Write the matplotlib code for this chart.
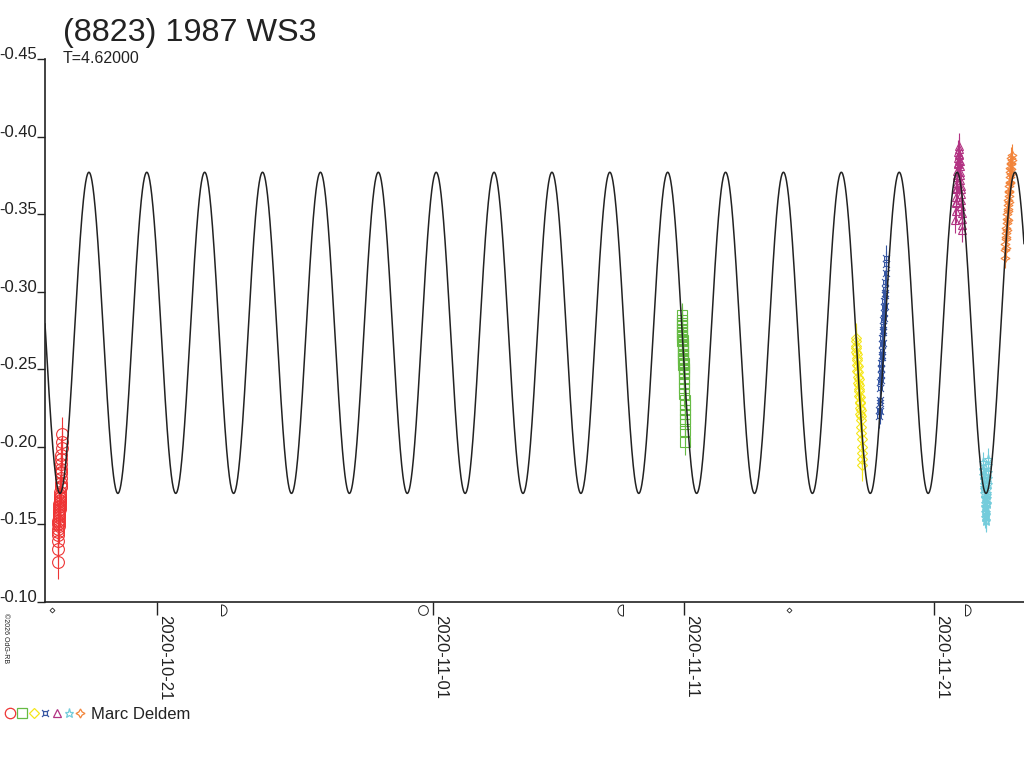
import numpy as np
import pandas as pd
import matplotlib
matplotlib.use('Agg')
import matplotlib.pyplot as plt
import matplotlib.dates as mdates
from matplotlib.lines import Line2D
from matplotlib.path import Path

plt.rcParams['font.family'] = ['Liberation Sans', 'DejaVu Sans']

# --- data ---------------------------------------------------------------
title = '(8823) 1987 WS3'
period_text = 'T=4.62000'
observer = 'Marc Deldem'

# sessions: start day, hours after start, relative magnitude, typical error
red_start = '2020-10-17'
red_hours = [1.0, 1.1, 1.2, 1.3, 1.4, 1.5, 1.6, 1.7, 1.8, 1.9, 2.0, 2.1, 2.2, 2.3, 2.4, 2.5,
             2.6, 2.7, 2.8, 2.9, 3.0, 3.1, 3.2, 3.3, 3.4, 3.5, 3.6, 3.7, 3.8, 3.9, 4.0, 4.1,
             4.2, 4.3, 4.4, 4.5, 4.6, 4.7, 4.8, 4.9]
red_mag = [-0.126, -0.134, -0.139, -0.143, -0.147, -0.150, -0.145, -0.152, -0.149, -0.155,
           -0.151, -0.157, -0.153, -0.159, -0.156, -0.161, -0.158, -0.163, -0.160, -0.165,
           -0.162, -0.167, -0.164, -0.169, -0.166, -0.171, -0.168, -0.174, -0.177, -0.175,
           -0.180, -0.183, -0.186, -0.184, -0.189, -0.192, -0.195, -0.199, -0.203, -0.208]
red_err = 0.011

green_start = '2020-11-10'
green_hours = [22.0, 22.1, 22.2, 22.3, 22.4, 22.5, 22.6, 22.7, 22.8, 22.9, 23.0, 23.1,
               23.2, 23.3, 23.4, 23.5, 23.6, 23.7, 23.8, 23.9, 24.0, 24.1, 24.2, 24.3,
               24.4, 24.5, 24.6, 24.7, 24.8, 24.9, 25.0, 25.1, 25.2, 25.3, 25.4, 25.5]
green_mag = [-0.285, -0.280, -0.276, -0.282, -0.278, -0.271, -0.274, -0.268, -0.272, -0.265,
             -0.269, -0.262, -0.266, -0.259, -0.263, -0.256, -0.260, -0.253, -0.257, -0.250,
             -0.254, -0.247, -0.251, -0.244, -0.248, -0.241, -0.238, -0.234, -0.230, -0.227,
             -0.224, -0.221, -0.218, -0.215, -0.210, -0.203]
green_err = 0.008

yellow_start = '2020-11-17'
yellow_hours = [20.5, 20.7, 20.9, 21.1, 21.3, 21.5, 21.7, 21.9, 22.1, 22.3, 22.5, 22.7,
                22.9, 23.1, 23.3, 23.5, 23.7, 23.9, 24.1, 24.3, 24.5, 24.7, 24.9, 25.1,
                25.3, 25.5, 25.7, 25.9, 26.1, 26.3, 26.5, 26.7, 26.9, 27.1]
yellow_mag = [-0.270, -0.265, -0.268, -0.261, -0.264, -0.257, -0.260, -0.253, -0.256, -0.249,
              -0.252, -0.245, -0.248, -0.241, -0.244, -0.237, -0.240, -0.233, -0.236, -0.229,
              -0.232, -0.225, -0.228, -0.221, -0.224, -0.217, -0.220, -0.213, -0.209, -0.205,
              -0.200, -0.196, -0.192, -0.188]
yellow_err = 0.010

blue_start = '2020-11-18'
blue_hours = [19.0, 19.2, 19.4, 19.6, 19.8, 20.0, 20.2, 20.4, 20.6, 20.8, 21.0, 21.2,
              21.4, 21.6, 21.8, 22.0, 22.2, 22.4, 22.6, 22.8, 23.0, 23.2, 23.4, 23.6,
              23.8, 24.0, 24.2, 24.4, 24.6, 24.8, 25.0, 25.2, 25.4, 25.6]
blue_mag = [-0.220, -0.224, -0.228, -0.223, -0.230, -0.238, -0.242, -0.246, -0.243, -0.250,
            -0.254, -0.251, -0.258, -0.262, -0.259, -0.266, -0.270, -0.267, -0.274, -0.278,
            -0.275, -0.282, -0.286, -0.283, -0.290, -0.294, -0.291, -0.298, -0.302, -0.299,
            -0.306, -0.312, -0.318, -0.322]
blue_err = 0.008

purple_start = '2020-11-21'
purple_hours = [20.0, 20.2, 20.4, 20.6, 20.8, 21.0, 21.2, 21.4, 21.6, 21.8, 22.0, 22.2,
                22.4, 22.6, 22.8, 23.0, 23.2, 23.4, 23.6, 23.8, 24.0, 24.2, 24.4, 24.6,
                24.8, 25.0, 25.2, 25.4, 25.6, 25.8, 26.0, 26.2, 26.4, 26.6]
purple_mag = [-0.346, -0.352, -0.357, -0.361, -0.358, -0.366, -0.370, -0.367, -0.374, -0.378,
              -0.375, -0.382, -0.386, -0.383, -0.390, -0.394, -0.388, -0.392, -0.385, -0.389,
              -0.381, -0.384, -0.377, -0.372, -0.375, -0.368, -0.363, -0.366, -0.359, -0.355,
              -0.351, -0.347, -0.343, -0.340]
purple_err = 0.008

cyan_start = '2020-11-22'
cyan_hours = [22.4, 22.55, 22.7, 22.85, 23.0, 23.15, 23.3, 23.45, 23.6, 23.75, 23.9, 24.05,
              24.2, 24.35, 24.5, 24.65, 24.8, 24.95, 25.1, 25.25, 25.4, 25.55, 25.7, 25.85,
              26.0, 26.15, 26.3, 26.45, 26.6, 26.75, 26.9, 27.05, 27.2, 27.35]
cyan_mag = [-0.190, -0.186, -0.182, -0.185, -0.179, -0.176, -0.180, -0.173, -0.170, -0.174,
            -0.167, -0.164, -0.168, -0.161, -0.158, -0.162, -0.155, -0.152, -0.156, -0.153,
            -0.158, -0.161, -0.157, -0.164, -0.167, -0.163, -0.170, -0.173, -0.169, -0.176,
            -0.180, -0.184, -0.188, -0.192]
cyan_err = 0.007

orange_start = '2020-11-23'
orange_hours = [19.5, 19.7, 19.9, 20.1, 20.3, 20.5, 20.7, 20.9, 21.1, 21.3, 21.5, 21.7,
                21.9, 22.1, 22.3, 22.5, 22.7, 22.9, 23.1, 23.3, 23.5, 23.7, 23.9, 24.1,
                24.3, 24.5, 24.7, 24.9, 25.1, 25.3, 25.5, 25.7, 25.9, 26.1]
orange_mag = [-0.322, -0.327, -0.331, -0.328, -0.335, -0.338, -0.334, -0.341, -0.344, -0.340,
              -0.347, -0.350, -0.346, -0.353, -0.356, -0.352, -0.359, -0.362, -0.358, -0.365,
              -0.368, -0.364, -0.371, -0.374, -0.370, -0.377, -0.380, -0.376, -0.383, -0.379,
              -0.386, -0.382, -0.388, -0.385]
orange_err = 0.007

# model curve as drawn
curve_mean = -0.2735
curve_amp = 0.1035
curve_period_days = 2.3077
curve_minimum = '2020-10-17 03:10'

# moon phases (UTC)
moon_new = ['2020-10-16 19:31', '2020-11-15 05:07']
moon_first_q = ['2020-10-23 13:23', '2020-11-22 04:45']
moon_full = ['2020-10-31 14:49']
moon_last_q = ['2020-11-08 13:46']

x_ticks = ['2020-10-21', '2020-11-01', '2020-11-11', '2020-11-21']
y_ticks = [-0.45, -0.40, -0.35, -0.30, -0.25, -0.20, -0.15, -0.10]
x_range = ['2020-10-16 12:50', '2020-11-24 13:40']

# --- markers ------------------------------------------------------------
th = np.linspace(-np.pi / 2, np.pi / 2, 25)
v = np.column_stack([np.cos(th), np.sin(th)])
first_q_marker = Path(np.vstack([v, v[:1]]))
last_q_marker = Path(np.vstack([-v, -v[:1]]))

sq = [(-0.5, -0.5), (0.5, -0.5), (0.5, 0.5), (-0.5, 0.5), (-0.5, -0.5)]
spurs = [(0.5, 0.5), (0.9, 0.9), (-0.5, 0.5), (-0.9, 0.9),
         (-0.5, -0.5), (-0.9, -0.9), (0.5, -0.5), (0.9, -0.9)]
codes = [Path.MOVETO] + [Path.LINETO] * 4 + [Path.MOVETO, Path.LINETO] * 4
cross_square = Path(sq + spurs, codes)


def dnum(s):
    return mdates.date2num(pd.Timestamp(s))


sessions = [
    (red_start, red_hours, red_mag, red_err, '#ee3535', 'o', 8.5),
    (green_start, green_hours, green_mag, green_err, '#66bb44', 's', 6.5),
    (yellow_start, yellow_hours, yellow_mag, yellow_err, '#f5e61a', 'D', 5.0),
    (blue_start, blue_hours, blue_mag, blue_err, '#3656a3', cross_square, 5.0),
    (purple_start, purple_hours, purple_mag, purple_err, '#b23383', '^', 5.5),
    (cyan_start, cyan_hours, cyan_mag, cyan_err, '#74ccdb', '*', 6.5),
    (orange_start, orange_hours, orange_mag, orange_err, '#f2843a', (4, 1, 0), 6.5),
]

fig = plt.figure(figsize=(10.24, 7.68), dpi=100)
ax = fig.add_axes([45 / 1024, (768 - 602) / 768, (1024 - 45) / 1024, (602 - 59) / 768])

for start, hours, mag, err, col, mk, ms in sessions:
    t = dnum(start) + np.array(hours) / 24.0
    ax.errorbar(t, mag, yerr=err, fmt='none', ecolor=col, elinewidth=0.8, capsize=0, zorder=2)
    ax.plot(t, mag, ls='none', marker=mk, ms=ms, mfc='none', mec=col, mew=0.8, zorder=2.5)

x0, x1 = dnum(x_range[0]), dnum(x_range[1])
tc = np.linspace(x0, x1, 4000)
mc = curve_mean + curve_amp * np.cos(2 * np.pi * (tc - dnum(curve_minimum)) / curve_period_days)
ax.plot(tc, mc, color='#222222', lw=1.1, zorder=3)

ax.set_xlim(x0, x1)
ax.set_ylim(-0.10, -0.45)

ax.spines['top'].set_visible(False)
ax.spines['right'].set_visible(False)
for s in ['left', 'bottom']:
    ax.spines[s].set_linewidth(1.2)
    ax.spines[s].set_color('#222222')

ax.set_yticks(y_ticks)
ax.set_yticklabels(['%.2f' % y for y in y_ticks])
ax.tick_params(axis='y', direction='out', length=5.5, width=1, pad=0, labelsize=12,
               colors='#222222')
for lab in ax.get_yticklabels():
    lab.set_verticalalignment('baseline')

ax.set_xticks([dnum(d) for d in x_ticks])
ax.set_xticklabels(x_ticks, rotation=-90, ha='left', va='top')
ax.tick_params(axis='x', direction='out', length=9.5, width=1, pad=0, labelsize=12,
               colors='#222222')

# moon phases just under the axis
xt = ax.get_xaxis_transform()
my = -0.015
ax.plot([dnum(d) for d in moon_new], [my] * len(moon_new), transform=xt, ls='none',
        marker='D', ms=2.5, mfc='none', mec='#222222', mew=0.6, clip_on=False)
ax.plot([dnum(d) for d in moon_full], [my] * len(moon_full), transform=xt, ls='none',
        marker='o', ms=7, mfc='none', mec='#222222', mew=0.7, clip_on=False)
ax.plot([dnum(d) for d in moon_first_q], [my] * len(moon_first_q), transform=xt, ls='none',
        marker=first_q_marker, ms=8, mfc='none', mec='#222222', mew=0.7, clip_on=False)
ax.plot([dnum(d) for d in moon_last_q], [my] * len(moon_last_q), transform=xt, ls='none',
        marker=last_q_marker, ms=8, mfc='none', mec='#222222', mew=0.7, clip_on=False)

fig.text(63 / 1024, 1 - 41 / 768, title, fontsize=23.3, color='#222222', va='baseline')
fig.text(63 / 1024, 1 - 63 / 768, period_text, fontsize=11.5, color='#222222', va='baseline')
fig.text(2 / 1024, 1 - 613 / 768, '\u00a92026 OdG-RB', rotation=-90, fontsize=5,
         color='#222222', ha='left', va='top')

# legend row
leg_x = [10, 22, 34, 45, 57, 69, 80]
for (start, hours, mag, err, col, mk, ms), lx in zip(sessions, leg_x):
    fig.add_artist(Line2D([lx / 1024], [1 - 713 / 768], transform=fig.transFigure,
                          ls='none', marker=mk, ms=min(ms, 7.5), mfc='none', mec=col, mew=0.9))
fig.text(91 / 1024, 1 - 719 / 768, observer, fontsize=12, color='#222222', va='baseline')

fig.savefig('out.png', dpi=100)
